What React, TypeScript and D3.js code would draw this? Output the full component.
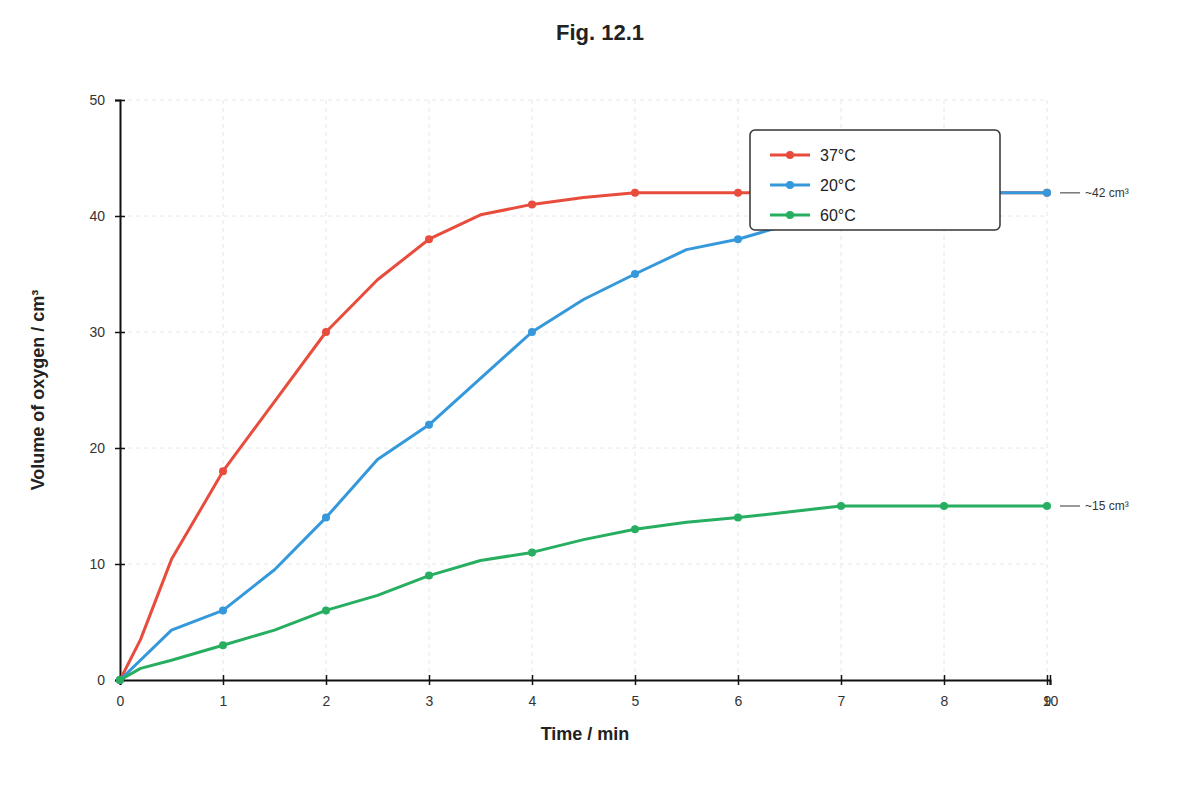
import React, { useEffect, useRef } from 'react';
import * as d3 from 'd3';

const title = 'Fig. 12.1';
const xTicks = [0, 1, 2, 3, 4, 5, 6, 7, 8, 9, 10];
const yTicks = [0, 10, 20, 30, 40, 50];

const redTimes = [0, 0.2, 0.5, 1, 1.5, 2, 2.5, 3, 3.5, 4, 4.5, 5, 6, 7, 8, 9];
const redValues = [0, 3.5, 10.4, 18, 24, 30, 34.5, 38, 40.1, 41, 41.6, 42, 42, 42, 42, 42];

const blueTimes = [0, 0.5, 1, 1.5, 2, 2.5, 3, 3.5, 4, 4.5, 5, 5.5, 6, 6.5, 7, 8, 9];
const blueValues = [0, 4.3, 6, 9.5, 14, 19, 22, 26, 30, 32.8, 35, 37.1, 38, 39.3, 40.5, 42, 42];

const greenTimes = [0, 0.2, 0.5, 1, 1.5, 2, 2.5, 3, 3.5, 4, 4.5, 5, 5.5, 6, 7, 8, 9];
const greenValues = [0, 1, 1.7, 3, 4.3, 6, 7.3, 9, 10.3, 11, 12.1, 13, 13.6, 14, 15, 15, 15];

const seriesNames = ['37°C', '20°C', '60°C'];
const seriesColors = ['#e74c3c', '#3498db', '#27ae60'];

const annotations = [
    { value: 42, label: '~42 cm³' },
    { value: 15, label: '~15 cm³' },
];

const dims = {
    width: 1200,
    height: 800,
    margin: { left: 120, top: 100, right: 150, bottom: 120 },
};
const innerW = dims.width - dims.margin.left - dims.margin.right; // 930
const innerH = dims.height - dims.margin.top - dims.margin.bottom; // 580

const font = '"Liberation Sans", Arial, sans-serif';

const App = () => {
    const container = useRef<HTMLDivElement>(null);

    useEffect(() => {
        if (!container.current) return;
        document.body.style.margin = '0';
        const root = d3.select(container.current);
        root.selectAll('*').remove();

        const svg = root.append('svg')
            .attr('width', dims.width)
            .attr('height', dims.height)
            .style('display', 'block')
            .style('font-family', font)
            .style('background', '#fff');

        const ctr = svg.append('g')
            .attr('transform', `translate(${dims.margin.left}, ${dims.margin.top})`);

        // time 9 sits 3px before the axis end where a stray "10" tick lives
        const xScale = d3.scaleLinear()
            .domain([0, 9, 10])
            .range([0, innerW - 3, innerW]);

        const yScale = d3.scaleLinear()
            .domain([0, 50])
            .range([innerH, 0]);

        // grid
        const grid = ctr.append('g')
            .attr('stroke', '#e6e6e6')
            .attr('stroke-width', 1)
            .attr('stroke-dasharray', '4,4');
        grid.selectAll('line.v')
            .data(xTicks.filter(t => t > 0 && t <= 9))
            .join('line')
            .attr('class', 'v')
            .attr('x1', d => xScale(d))
            .attr('x2', d => xScale(d))
            .attr('y1', 0)
            .attr('y2', innerH);
        grid.selectAll('line.h')
            .data(yTicks.filter(t => t > 0))
            .join('line')
            .attr('class', 'h')
            .attr('x1', 0)
            .attr('x2', xScale(9))
            .attr('y1', d => yScale(d))
            .attr('y2', d => yScale(d));

        // axes
        const xAxisGroup = ctr.append('g')
            .attr('transform', `translate(0, ${innerH})`)
            .call(d3.axisBottom(xScale).tickValues(xTicks).tickSizeOuter(0).tickSize(5).tickPadding(11));
        xAxisGroup.selectAll('.tick line').attr('y1', -5).attr('y2', 5);

        const yAxisGroup = ctr.append('g')
            .call(d3.axisLeft(yScale).tickValues(yTicks).tickSizeOuter(0).tickSize(5).tickPadding(10));
        yAxisGroup.selectAll('.tick line').attr('x1', -5).attr('x2', 5);

        [xAxisGroup, yAxisGroup].forEach(g => {
            g.select('.domain').attr('stroke', '#111').attr('stroke-width', 2);
            g.selectAll('.tick line').attr('stroke', '#111').attr('stroke-width', 1.5);
            g.selectAll('.tick text')
                .attr('fill', '#333')
                .style('font-size', '14px')
                .style('font-family', font);
        });

        // series
        const series = [
            { times: redTimes, values: redValues },
            { times: blueTimes, values: blueValues },
            { times: greenTimes, values: greenValues },
        ];

        const line = d3.line<[number, number]>()
            .x(d => xScale(d[0]))
            .y(d => yScale(d[1]));

        series.forEach((s, i) => {
            const pts: [number, number][] = s.times.map((t, j) => [t, s.values[j]]);
            const g = ctr.append('g');
            g.append('path')
                .datum(pts)
                .attr('fill', 'none')
                .attr('stroke', seriesColors[i])
                .attr('stroke-width', 3)
                .attr('stroke-linejoin', 'round')
                .attr('d', line);
            g.selectAll('circle')
                .data(pts.filter(p => Number.isInteger(p[0])))
                .join('circle')
                .attr('cx', d => xScale(d[0]))
                .attr('cy', d => yScale(d[1]))
                .attr('r', 4)
                .attr('fill', seriesColors[i]);
        });

        // end annotations
        annotations.forEach(a => {
            const y = yScale(a.value);
            ctr.append('line')
                .attr('x1', xScale(9) + 13)
                .attr('x2', xScale(9) + 33)
                .attr('y1', y)
                .attr('y2', y)
                .attr('stroke', '#777')
                .attr('stroke-width', 1.5);
            ctr.append('text')
                .attr('x', xScale(9) + 38)
                .attr('y', y)
                .attr('dy', '0.35em')
                .attr('fill', '#333')
                .style('font-size', '12px')
                .text(a.label);
        });

        // legend
        const legend = ctr.append('g')
            .attr('transform', `translate(630, 30)`);
        legend.append('rect')
            .attr('width', 250)
            .attr('height', 100)
            .attr('rx', 5)
            .attr('fill', '#fff')
            .attr('stroke', '#333')
            .attr('stroke-width', 1.5);
        seriesNames.forEach((name, i) => {
            const row = legend.append('g').attr('transform', `translate(20, ${25 + i * 30})`);
            row.append('line')
                .attr('x1', 0).attr('x2', 40)
                .attr('stroke', seriesColors[i])
                .attr('stroke-width', 3);
            row.append('circle')
                .attr('cx', 20)
                .attr('r', 4)
                .attr('fill', seriesColors[i]);
            row.append('text')
                .attr('x', 50)
                .attr('dy', '0.35em')
                .attr('fill', '#222')
                .style('font-size', '16px')
                .text(name);
        });

        // labels
        svg.append('text')
            .attr('x', dims.width / 2)
            .attr('y', 40)
            .attr('text-anchor', 'middle')
            .attr('fill', '#222')
            .style('font-size', '22px')
            .style('font-weight', 'bold')
            .text(title);

        svg.append('text')
            .attr('x', dims.margin.left + innerW / 2)
            .attr('y', 740)
            .attr('text-anchor', 'middle')
            .attr('fill', '#222')
            .style('font-size', '18px')
            .style('font-weight', 'bold')
            .text('Time / min');

        svg.append('text')
            .attr('transform', `translate(44, ${dims.margin.top + innerH / 2}) rotate(-90)`)
            .attr('text-anchor', 'middle')
            .attr('fill', '#222')
            .style('font-size', '18px')
            .style('font-weight', 'bold')
            .text('Volume of oxygen / cm³');
    }, []);

    return (<div ref={container} />);
};

export default App;
